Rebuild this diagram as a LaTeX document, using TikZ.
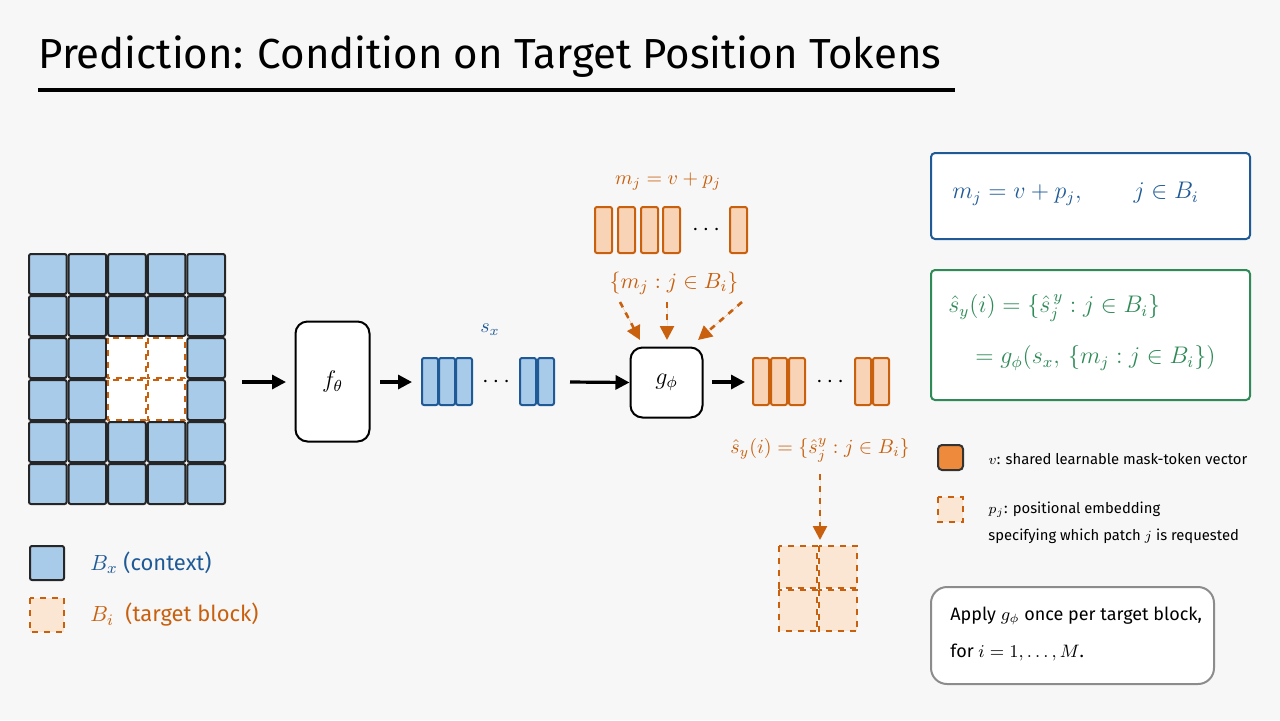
\documentclass[tikz,border=0pt]{standalone}
\usepackage{fontspec}
\setmainfont{Fira Sans}
\usetikzlibrary{arrows.meta,patterns}
\definecolor{bfill}{HTML}{A9CBEA}
\definecolor{bdraw}{HTML}{1F5A96}
\definecolor{ofill}{HTML}{F8D3B5}
\definecolor{odraw}{HTML}{C8600E}
\definecolor{oleg}{HTML}{EE8A3C}
\definecolor{gdraw}{HTML}{2E8B57}
\definecolor{bg}{HTML}{F7F7F7}
\tikzset{
 cell/.style={fill=bfill,draw=black!85,line width=1pt,rounded corners=1pt},
 tcell/.style={fill=ofill!60,draw=odraw,line width=1pt,dashed},
 bbar/.style={fill=bfill,draw=bdraw,line width=1pt,rounded corners=1pt},
 obar/.style={fill=ofill,draw=odraw,line width=1pt,rounded corners=1pt},
 fbox/.style={draw=black,line width=1pt,rounded corners=6pt,fill=white},
 arr/.style={-{Triangle[length=7pt,width=7pt]},line width=1.6pt},
 oarr/.style={-{Triangle[length=7pt,width=7pt]},line width=1.3pt,draw=odraw,dashed,fill=odraw},
 txt/.style={font=\fontsize{9}{11}\selectfont,inner sep=0pt},
 dots/.style={inner sep=0pt,font=\fontsize{13}{14}\selectfont},
}
\begin{document}
\begin{tikzpicture}[x=0.5pt,y=-0.5pt]
\fill[bg] (0,0) rectangle (1280,720);
\useasboundingbox (0,0) rectangle (1280,720);
% title
\node[anchor=west,inner sep=0pt,font=\fontsize{21}{24}\selectfont] (title) at (38,57) {Prediction: Condition on Target Position Tokens};
\draw[line width=1.6pt] (38,90) -- (955,90);
% grid
\foreach \c in {0,...,4}{\foreach \r in {0,...,5}{
 \pgfmathtruncatemacro{\inner}{(\c>=2)&&(\c<=3)&&(\r>=2)&&(\r<=3)}
 \ifnum\inner=0
 \draw[cell] (28+\c*39.6+1,253+\r*42+1) rectangle ++(37.6,40);
 \fi}}
\fill[white] (107,337) rectangle (186,421);
\foreach \c in {2,3}{\foreach \r in {2,3}{
 \draw[draw=odraw,line width=1pt,dashed] (28+\c*39.6+1,253+\r*42+1) rectangle ++(37.6,40);}}
\coordinate (gridE) at (242,382);
% f box
\node[fbox,minimum width=37pt,minimum height=60pt] (f) at (332.5,381.5) {\fontsize{12}{14}\selectfont$f_\theta$};
% blue bars
\foreach \x in {422,439,456,520,538}{\draw[bbar] (\x,358) rectangle ++(16,47);}
\node[dots] (dots1) at (496,382) {$\cdots$};
\node[txt,text=bdraw] (sx) at (490,330) {\fontsize{10}{12}\selectfont$s_x$};
\coordinate (bl) at (412,382); \coordinate (br) at (570,382);
% g box
\node[fbox,minimum width=36pt,minimum height=35pt] (g) at (666.5,382.5) {\fontsize{12}{14}\selectfont$g_\phi$};
% orange out bars
\foreach \x in {753,771,789,855,873}{\draw[obar] (\x,358) rectangle ++(16,47);}
\node[dots] (dots2) at (830,382) {$\cdots$};
% top bars
\foreach \x in {595,618,641,663,730}{\draw[obar] (\x,207) rectangle ++(17,46);}
\node[dots] (dots3) at (706,230) {$\cdots$};
\node[txt,text=odraw] (mj) at (668,182) {\fontsize{10}{12}\selectfont$m_j = v + p_j$};
\node[txt,text=odraw] (mset) at (674,283) {\fontsize{11}{13}\selectfont$\{m_j : j \in B_i\}$};
\coordinate (d1) at (620,302); \coordinate (d2) at (667,302); \coordinate (d3) at (742,302);
\draw[oarr] (d1) -- (640,340);
\draw[oarr] (d2) -- (667,340);
\draw[oarr] (d3) -- (698,340);
% arrows
\coordinate (fe) at (380,382);
\draw[arr] (gridE) -- (286,382);
\draw[arr] (fe) -- (bl);
\draw[arr] (br) -- (g.west);
\coordinate (ge) at (712,382);
\draw[arr] (ge) -- (745,382);
% shat
\node[txt,text=odraw] (sh) at (820,450) {\fontsize{10}{12}\selectfont$\hat s_y(i) = \{\hat s^{y}_j : j \in B_i\}$};
\coordinate (shb) at (820,474);
\draw[oarr] (shb) -- (820,540);
\foreach \c in {0,1}{\foreach \r in {0,1}{
 \draw[tcell] (778+\c*40+1,545+\r*43.5+1) rectangle ++(38,41.5);}}
% left legend
\draw[cell] (30,546) rectangle (64,580);
\node[txt,anchor=west,text=bdraw] (lb) at (90,563) {\fontsize{11}{13}\selectfont$B_x$ (context)};
\draw[tcell] (30,598) rectangle (64,632);
\node[txt,anchor=west,text=odraw] (lo) at (90,615) {\fontsize{11}{13}\selectfont$B_i$\ \ (target block)};
% right boxes
\draw[draw=bdraw,line width=1pt,fill=white,rounded corners=2pt] (931,153) rectangle (1250,239);
\node[txt,anchor=west,text=bdraw] (eq1) at (952,194) {\fontsize{12}{14}\selectfont$m_j = v + p_j,\qquad j \in B_i$};
\draw[draw=gdraw,line width=1pt,fill=white,rounded corners=2pt] (931,270) rectangle (1250,400);
\node[txt,anchor=west,text=gdraw] (eq2) at (948,308) {\fontsize{12}{14}\selectfont$\hat s_y(i) = \{\hat s^{\,y}_j : j \in B_i\}$};
\node[txt,anchor=west,text=gdraw] (eq3) at (975,358) {\fontsize{12}{14}\selectfont$= g_\phi\bigl(s_x,\,\{m_j : j \in B_i\}\bigr)$};
\draw[fill=oleg,draw=black!80,line width=1pt,rounded corners=2pt] (938,445) rectangle (963,470);
\node[txt,anchor=west] (l1) at (988,459) {\fontsize{7.4}{9}\selectfont$v$: shared learnable mask-token vector};
\draw[tcell] (938,497) rectangle (963,522);
\node[txt,anchor=west] (l2) at (988,510) {\fontsize{7.4}{9}\selectfont$p_j$: positional embedding};
\node[txt,anchor=west] (l3) at (988,536) {\fontsize{7.4}{9}\selectfont specifying which patch $j$ is requested};
\draw[draw=black!45,line width=1pt,fill=white,rounded corners=8pt] (931,587) rectangle (1214,684);
\node[txt,anchor=west] (a1) at (950,616) {\fontsize{9}{11}\selectfont Apply $g_\phi$ once per target block,};
\node[txt,anchor=west] (a2) at (950,652) {\fontsize{9}{11}\selectfont for $i = 1, \ldots, M$.};
\end{tikzpicture}
\end{document}
